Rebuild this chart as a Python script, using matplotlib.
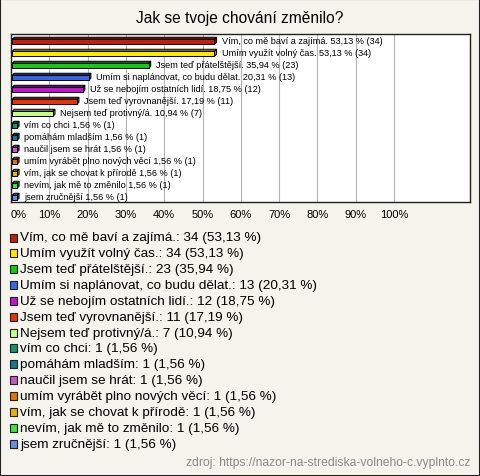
import matplotlib.pyplot as plt
from matplotlib.patches import Polygon, Rectangle

plt.rcParams['font.family'] = ['Liberation Sans', 'DejaVu Sans']

title = 'Jak se tvoje chování změnilo?'
labels = ['Vím, co mě baví a zajímá.', 'Umím využít volný čas.',
          'Jsem teď přátelštější.', 'Umím si naplánovat, co budu dělat.',
          'Už se nebojím ostatních lidí.', 'Jsem teď vyrovnanější.',
          'Nejsem teď protivný/á.', 'vím co chci', 'pomáhám mladším',
          'naučil jsem se hrát', 'umím vyrábět plno nových věcí',
          'vím, jak se chovat k přírodě', 'nevím, jak mě to změnilo',
          'jsem zručnější']
counts = [34, 34, 23, 13, 12, 11, 7, 1, 1, 1, 1, 1, 1, 1]
percents = [53.13, 53.13, 35.94, 20.31, 18.75, 17.19, 10.94,
            1.56, 1.56, 1.56, 1.56, 1.56, 1.56, 1.56]
colors = ['#c41e0c', '#ffe800', '#14c814', '#3a64e4', '#c414d0', '#e4340c',
          '#c4ff80', '#14966a', '#147890', '#c458c4', '#e47400', '#e4b400',
          '#3ce43c', '#6490e0']
ticks = [0, 10, 20, 30, 40, 50, 60, 70, 80, 90, 100]
source = 'zdroj: https://nazor-na-strediska-volneho-c.vyplnto.cz'

W, H = 480, 477
bg = '#f4f3ec'
fig = plt.figure(figsize=(W / 100, H / 100), dpi=100, facecolor=bg)


def fx(px):
    return px / W


def fy(py):
    return 1 - py / H


def darker(c, f=0.6):
    r, g, b = int(c[1:3], 16), int(c[3:5], 16), int(c[5:7], 16)
    return (r / 255 * f, g / 255 * f, b / 255 * f)


fmt = lambda p: f'{p:.2f}'.replace('.', ',')

# plot area
left, right, top, bottom = 11, 470, 35, 203
ax = fig.add_axes([fx(left), fy(bottom), fx(right - left), (bottom - top) / H])
ax.set_facecolor('white')
xmax = 100 * (right - left) / 383.0
ax.set_xlim(0, xmax)
n = len(labels)
ax.set_ylim(n - 0.5, -0.5)
for t in ticks[1:]:
    ax.axvline(t, color='#b4b4b4', lw=0.8, zorder=0)
for s in ax.spines.values():
    s.set_linewidth(1.0)
    s.set_color('#202020')
ax.set_yticks([])
ax.set_xticks(ticks)
ax.set_xticklabels([f'{t}%' for t in ticks], fontsize=8)
ax.tick_params(axis='x', length=0, pad=5)
ax.get_xticklabels()[0].set_horizontalalignment('left')

h = 0.42
dx = 0.55
dy = 0.17
x0 = 0.3
for i, (lab, c, p, col) in enumerate(zip(labels, counts, percents, colors)):
    y = i + 0.15
    v = max(p, 0.9)
    ax.add_patch(Polygon([(x0, y - h / 2), (x0 + dx, y - h / 2 - dy),
                          (v + dx, y - h / 2 - dy), (v, y - h / 2)],
                         closed=True, fc=darker(col), ec='black', lw=0.7, zorder=3))
    ax.add_patch(Polygon([(v, y - h / 2), (v + dx, y - h / 2 - dy),
                          (v + dx, y + h / 2 - dy), (v, y + h / 2)],
                         closed=True, fc=darker(col), ec='black', lw=0.7, zorder=3))
    ax.add_patch(Rectangle((x0, y - h / 2), v - x0, h, fc=col, ec='black',
                           lw=0.7, zorder=4))
    ax.text(v + dx + 1.3, y - 0.08, f'{lab} {fmt(p)} % ({c})', fontsize=6.6,
            va='center', ha='left', zorder=5)

# title
fig.text(0.5, fy(18), title, fontsize=11.2, ha='center', va='center')

# legend
row0, step = 238.5, 15.85
for i, (lab, c, p, col) in enumerate(zip(labels, counts, percents, colors)):
    yc = row0 + i * step
    fig.patches.append(Rectangle((fx(9.5), fy(yc + 4)), fx(7.5), 8 / H, fc=col,
                                 ec='#202020', lw=0.8,
                                 transform=fig.transFigure, figure=fig))
    fig.text(fx(20), fy(yc), f'{lab}: {c} ({fmt(p)} %)', fontsize=9.7,
             ha='left', va='center')

fig.text(fx(470), fy(463), source, fontsize=8.7, color='#8a8a8a',
         ha='right', va='center')

# outer frame
fig.patches.append(Rectangle((0, 0), 1, 1, fill=False, ec='#202020', lw=1.5,
                             transform=fig.transFigure, figure=fig))

fig.savefig('out.png', dpi=100, facecolor=bg)
